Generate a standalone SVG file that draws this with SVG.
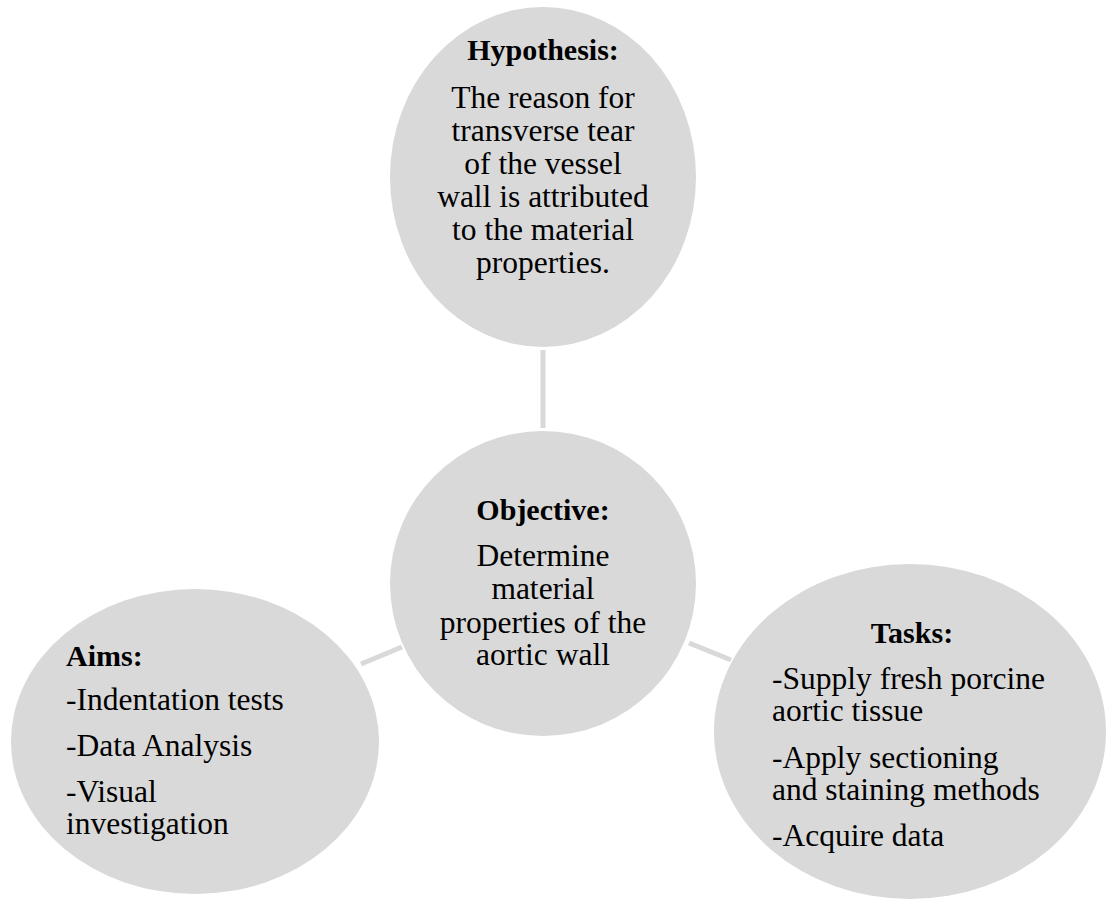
<svg xmlns="http://www.w3.org/2000/svg" width="1109" height="901" viewBox="0 0 1109 901">
<style>
.bub{fill:#d9d9d9;stroke:none}
.con{stroke:#d9d9d9;stroke-width:5;fill:none}
text{font-family:"Liberation Serif","Times New Roman",serif;font-size:31.5px;fill:#000}
.h{font-weight:bold;font-size:30px}
.c{text-anchor:middle}
</style>
<rect width="1109" height="901" fill="#fff"/>
<g id="connectors">
<line class="con" x1="543" y1="350" x2="543" y2="428"/>
<line class="con" x1="361" y1="664" x2="402" y2="647"/>
<line class="con" x1="689" y1="643" x2="731" y2="660"/>
</g>
<g id="hypothesis">
<ellipse class="bub" cx="543" cy="177" rx="153" ry="170"/>
<text class="h c" x="543" y="60">Hypothesis:</text>
<text class="c" x="543" y="108">The reason for</text>
<text class="c" x="543" y="141">transverse tear</text>
<text class="c" x="543" y="174">of the vessel</text>
<text class="c" x="543" y="207">wall is attributed</text>
<text class="c" x="543" y="240">to the material</text>
<text class="c" x="543" y="273">properties.</text>
</g>
<g id="objective">
<ellipse class="bub" cx="543" cy="583.5" rx="153" ry="152.5"/>
<text class="h c" x="543" y="520">Objective:</text>
<text class="c" x="543" y="566">Determine</text>
<text class="c" x="543" y="599">material</text>
<text class="c" x="543" y="633">properties of the</text>
<text class="c" x="543" y="665">aortic wall</text>
</g>
<g id="aims">
<ellipse class="bub" cx="195" cy="741.5" rx="184" ry="152.5"/>
<text class="h" x="66" y="666">Aims:</text>
<text x="66" y="710">-Indentation tests</text>
<text x="66" y="756">-Data Analysis</text>
<text x="66" y="802">-Visual</text>
<text x="66" y="834">investigation</text>
</g>
<g id="tasks">
<ellipse class="bub" cx="910" cy="731.5" rx="196" ry="167.5"/>
<text class="h c" x="912" y="643">Tasks:</text>
<text x="772" y="689">-Supply fresh porcine</text>
<text x="772" y="721">aortic tissue</text>
<text x="772" y="768">-Apply sectioning</text>
<text x="772" y="800">and staining methods</text>
<text x="772" y="846">-Acquire data</text>
</g>
</svg>
